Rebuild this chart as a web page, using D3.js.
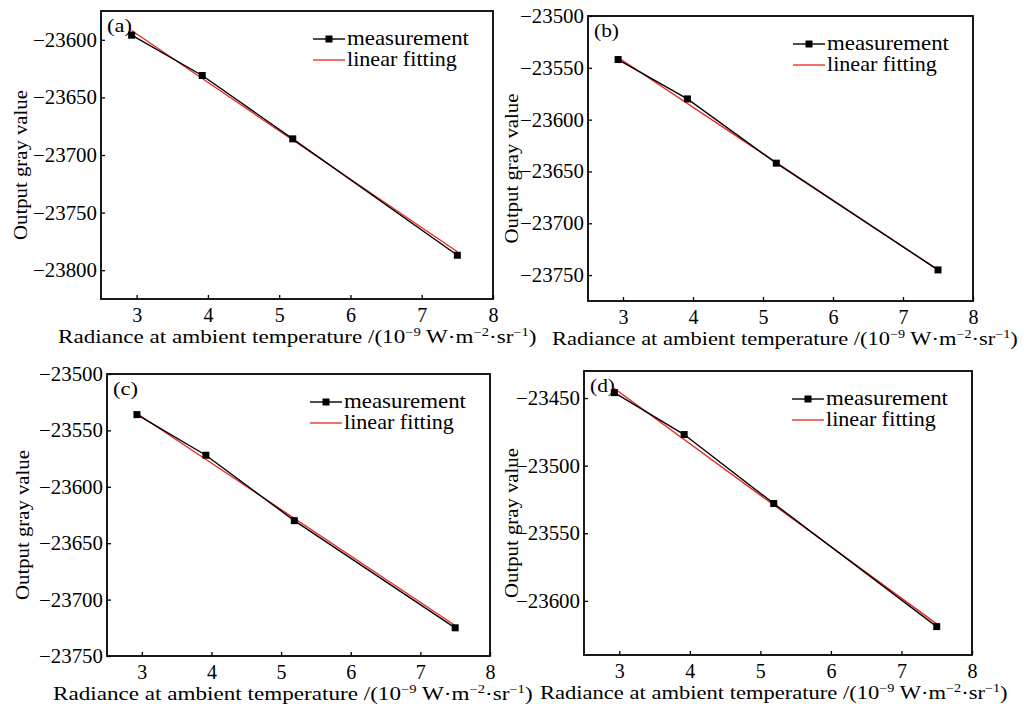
<!DOCTYPE html>
<meta charset="utf-8">
<title>Output gray value vs radiance</title>
<head>
    <script src="https://d3js.org/d3.v7.min.js"></script>
</head>
<body style="margin: 0px; background: #fff">
<script>

    // data
    var radiance = [2.93, 3.92, 5.19, 7.50];
    var grayA = [-23596, -23631, -23686, -23787];
    var grayB = [-23542, -23580, -23642, -23745];
    var grayC = [-23536, -23572, -23630, -23725];
    var grayD = [-23446, -23477, -23528, -23619];

    // linear fitting, end points
    var fitX = [2.93, 7.50];
    var fitA = [-23592, -23784];
    var fitB = [-23540, -23745];
    var fitC = [-23535, -23723];
    var fitD = [-23443, -23617];

    var xDomain = [2.5, 8];
    var xTicks = [3, 4, 5, 6, 7, 8];
    var yDomainA = [-23825, -23575], yTicksA = [-23600, -23650, -23700, -23750, -23800];
    var yDomainB = [-23775, -23500], yTicksB = [-23500, -23550, -23600, -23650, -23700, -23750];
    var yDomainC = [-23750, -23500], yTicksC = [-23500, -23550, -23600, -23650, -23700, -23750];
    var yDomainD = [-23640, -23430], yTicksD = [-23450, -23500, -23550, -23600];

    var panelLabels = ["(a)", "(b)", "(c)", "(d)"];
    var legendLabels = ["measurement", "linear fitting"];
    var yTitle = "Output gray value";

    var panels = [
        {label: panelLabels[0], gray: grayA, fit: fitA, yDomain: yDomainA, yTicks: yTicksA,
            left: 101, top: 11, right: 493, bottom: 299, ytx: 20, titleX: 58, titleW: 479},
        {label: panelLabels[1], gray: grayB, fit: fitB, yDomain: yDomainB, yTicks: yTicksB,
            left: 588, top: 16, right: 973, bottom: 301, ytx: 511, titleX: 552, titleW: 466},
        {label: panelLabels[2], gray: grayC, fit: fitC, yDomain: yDomainC, yTicks: yTicksC,
            left: 107, top: 374, right: 490, bottom: 656, ytx: 22, titleX: 53, titleW: 480},
        {label: panelLabels[3], gray: grayD, fit: fitD, yDomain: yDomainD, yTicks: yTicksD,
            left: 584, top: 371, right: 972, bottom: 655, ytx: 511, titleX: 540, titleW: 468}
    ];

    var font = "'Liberation Serif', 'DejaVu Serif', serif";
    var red = "#e8231c";

    var svg = d3.select("body").append("svg")
            .attr("width", 1024)
            .attr("height", 704)
            .style("font-family", font);

    // the original font is wider than Times, so stretch text to the measured width
    function stretch(sel, target, pre) {
        var len = sel.node().getComputedTextLength();
        sel.attr("transform", pre + " scale(" + (target / len) + ",1)");
    }

    panels.forEach(function (p) {
        var w = p.right - p.left, h = p.bottom - p.top;
        var x = d3.scaleLinear().domain(xDomain).range([0, w]);
        var y = d3.scaleLinear().domain(p.yDomain).range([h, 0]);

        var g = svg.append("g").attr("transform", "translate(" + p.left + "," + p.top + ")");

        var xa = g.append("g").attr("transform", "translate(0," + h + ")")
                .call(d3.axisBottom(x).tickValues(xTicks).tickFormat(d3.format("d"))
                        .tickSizeInner(-4).tickSizeOuter(0).tickPadding(9));
        var ya = g.append("g")
                .call(d3.axisLeft(y).tickValues(p.yTicks).tickFormat(d3.format("d"))
                        .tickSizeInner(-4).tickSizeOuter(0).tickPadding(4));
        [xa, ya].forEach(function (a) {
            a.select(".domain").remove();
            a.selectAll("line").attr("stroke", "#000").attr("stroke-width", 1.3);
            a.selectAll("text").attr("fill", "#000").style("font-size", "20px").style("font-family", font);
        });
        ya.selectAll("text").each(function () {
            var len = this.getComputedTextLength();
            d3.select(this).attr("x", 0).attr("transform", "translate(-4,0) scale(" + (64 / len) + ",1)");
        });

        // fitted line (red) under the measurement
        var line = d3.line().x(function (d) { return x(d[0]); }).y(function (d) { return y(d[1]); });
        g.append("path")
                .datum(fitX.map(function (v, i) { return [v, p.fit[i]]; }))
                .attr("d", line).attr("fill", "none").attr("stroke", red).attr("stroke-width", 1.3);

        var pts = radiance.map(function (v, i) { return [v, p.gray[i]]; });
        g.append("path").datum(pts)
                .attr("d", line).attr("fill", "none").attr("stroke", "#000").attr("stroke-width", 1.4);
        g.selectAll("rect.pt").data(pts).enter().append("rect")
                .attr("class", "pt")
                .attr("x", function (d) { return x(d[0]) - 3.5; })
                .attr("y", function (d) { return y(d[1]) - 3.5; })
                .attr("width", 7).attr("height", 7).attr("fill", "#000");

        g.append("rect").attr("width", w).attr("height", h)
                .attr("fill", "none").attr("stroke", "#000").attr("stroke-width", 1.8);

        var pl = g.append("text").style("font-size", "19px").text(p.label);
        stretch(pl, 25, "translate(6,21)");

        // legend
        var lg = g.append("g").attr("transform", "translate(" + (w - 180) + ",28)");
        lg.append("line").attr("x1", 0).attr("x2", 32).attr("stroke", "#000").attr("stroke-width", 1.4);
        lg.append("rect").attr("x", 12.5).attr("y", -3.5).attr("width", 7).attr("height", 7);
        lg.append("line").attr("x1", 0).attr("x2", 32).attr("y1", 21).attr("y2", 21)
                .attr("stroke", red).attr("stroke-width", 1.3);
        var legendWidths = [122, 110];
        lg.selectAll("text").data(legendLabels).enter().append("text")
                .attr("dy", "0.32em")
                .style("font-size", "20px").text(function (d) { return d; })
                .each(function (d, i) {
                    stretch(d3.select(this), legendWidths[i], "translate(34," + (i * 21) + ")");
                });

        // axis titles
        var yt = svg.append("text")
                .attr("text-anchor", "middle").attr("dy", "0.35em")
                .style("font-size", "19px").text(yTitle);
        stretch(yt, 150, "translate(" + p.ytx + "," + (p.top + h / 2 + 10) + ") rotate(-90)");

        var t = svg.append("text").style("font-size", "19px");
        t.append("tspan").text("Radiance at ambient temperature /(10");
        t.append("tspan").attr("dy", -7).style("font-size", "12px").text("\u22129");
        t.append("tspan").attr("dy", 7).text(" W\u00b7m");
        t.append("tspan").attr("dy", -7).style("font-size", "12px").text("\u22122");
        t.append("tspan").attr("dy", 7).text("\u00b7sr");
        t.append("tspan").attr("dy", -7).style("font-size", "12px").text("\u22121");
        t.append("tspan").attr("dy", 7).text(")");
        stretch(t, p.titleW, "translate(" + p.titleX + "," + (p.bottom + 44) + ")");
    });

</script>
</body>
